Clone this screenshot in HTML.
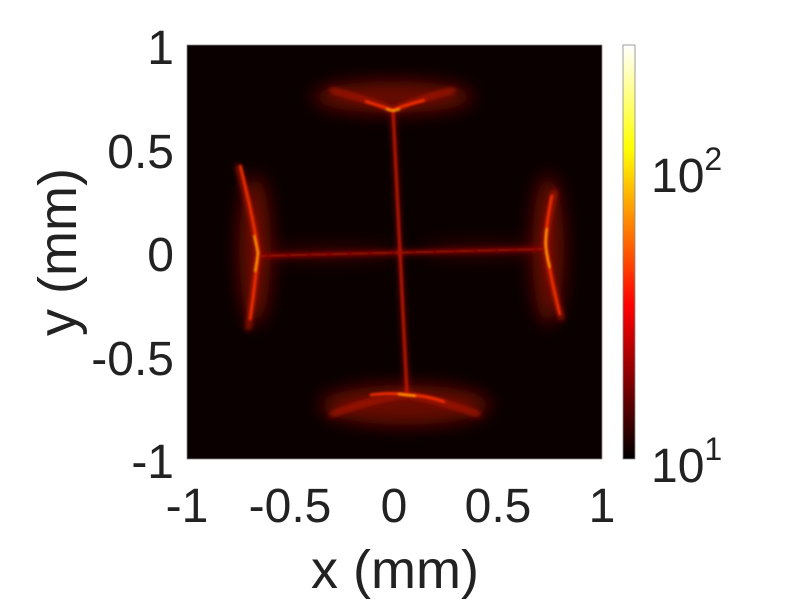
<!DOCTYPE html>
<html><head><meta charset="utf-8"><style>
body{margin:0;background:#fff;}
svg{display:block;font-family:"Liberation Sans",Arial,sans-serif;}
</style></head><body>
<svg width="800" height="602" viewBox="0 0 800 602">
<defs>
<linearGradient id="hot" x1="0" y1="1" x2="0" y2="0">
<stop offset="0" stop-color="#000"/>
<stop offset="0.37" stop-color="#ff0000"/>
<stop offset="0.75" stop-color="#ffff00"/>
<stop offset="1" stop-color="#ffffff"/>
</linearGradient>
<filter id="b1" x="-50%" y="-50%" width="200%" height="200%"><feGaussianBlur stdDeviation="1"/></filter>
<filter id="b3" x="-50%" y="-50%" width="200%" height="200%"><feGaussianBlur stdDeviation="3"/></filter>
<filter id="b8" x="-50%" y="-50%" width="200%" height="200%"><feGaussianBlur stdDeviation="9"/></filter>
<clipPath id="cp"><rect x="187" y="45" width="415" height="414"/></clipPath>
</defs>
<rect x="187" y="45" width="415" height="414" fill="#0a0000"/>
<g clip-path="url(#cp)">
<g filter="url(#b8)" fill="#7a0800" opacity="0.85">
<ellipse cx="393" cy="97" rx="80" ry="16"/>
<ellipse cx="405" cy="405" rx="85" ry="20"/>
<ellipse cx="255" cy="250" rx="16" ry="75"/>
<ellipse cx="548" cy="250" rx="16" ry="75"/>
<ellipse cx="330" cy="253" rx="70" ry="6" opacity="0.6"/>
<ellipse cx="480" cy="250" rx="60" ry="6" opacity="0.6"/>
</g>
<g filter="url(#b3)" stroke="#b01200" fill="none" stroke-width="5">
<path d="M330 90 Q370 100 393 110 Q420 98 455 90"/>
<path d="M330 415 Q375 398 407 395 Q440 400 480 415"/>
<path d="M238 165 Q255 225 258 253 Q254 290 248 330"/>
<path d="M555 190 Q545 230 546 248 Q550 280 562 320"/>
<path d="M258 256 L546 249" stroke-width="4" stroke="#8a0a00"/>
<path d="M393 110 L407 395" stroke-width="3"/>
</g>
<g filter="url(#b1)" stroke="#ff3000" fill="none" stroke-width="2.5">
<path d="M240 165 Q255 225 258 253 Q255 285 250 320"/>
<path d="M552 195 Q545 230 546 248 Q550 275 560 315"/>
<path d="M365 101 Q383 107 393 110 Q405 105 425 100"/>
<path d="M370 395 Q392 392 407 395 Q425 395 445 402"/>
<path d="M393 110 L407 395" stroke="#d81200" stroke-width="2"/>
<path d="M258 256 L546 249" stroke="#9a0c00" stroke-width="2"/>
</g>
<g stroke="#ffd000" fill="none" stroke-width="1.5" filter="url(#b1)">
<path d="M254 235 Q257 248 258 253 Q257 262 255 272"/>
<path d="M547 228 Q545 242 546 248 Q547 258 550 268"/>
<path d="M386 109 L393 111 L400 109"/>
<path d="M398 394 L407 395 L416 396"/>
</g>
</g>
<rect x="187" y="45" width="415" height="414" fill="none" stroke="#888" stroke-width="0.8"/>
<rect x="623" y="45" width="12" height="414" fill="url(#hot)" stroke="#888" stroke-width="0.8"/>
<g font-size="48" fill="#222" text-anchor="end">
<text x="174" y="64">1</text>
<text x="174" y="168">0.5</text>
<text x="174" y="271">0</text>
<text x="174" y="375">-0.5</text>
<text x="174" y="478">-1</text>
</g>
<g font-size="48" fill="#222" text-anchor="middle">
<text x="187" y="522">-1</text>
<text x="290" y="522">-0.5</text>
<text x="394" y="522">0</text>
<text x="498" y="522">0.5</text>
<text x="602" y="522">1</text>
</g>
<g font-size="54" fill="#222" text-anchor="middle">
<text x="395" y="588">x (mm)</text>
<text transform="translate(76,252) rotate(-90)">y (mm)</text>
</g>
<g font-size="48" fill="#222">
<text x="651" y="192">10<tspan font-size="32" dy="-22">2</tspan></text>
<text x="651" y="482">10<tspan font-size="32" dy="-22">1</tspan></text>
</g>
</svg>
</body></html>
